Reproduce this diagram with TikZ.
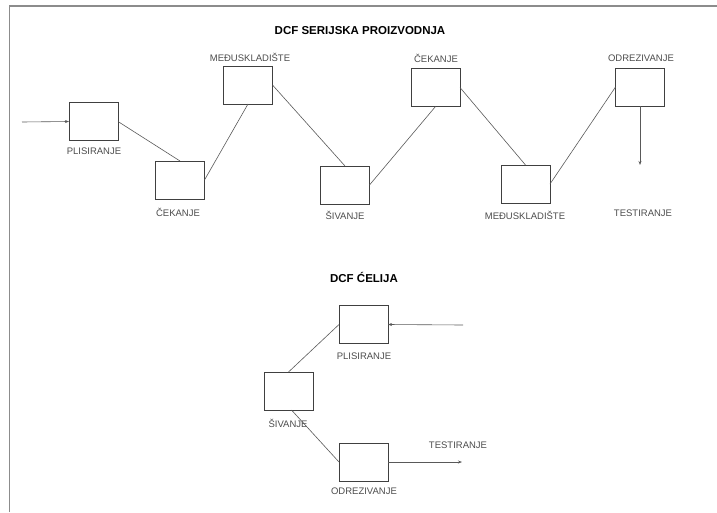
\documentclass[tikz,border=0pt]{standalone}
\usepackage{fontspec}
\setmainfont{Liberation Sans}
\usetikzlibrary{arrows.meta}
\begin{document}
\begin{tikzpicture}[x=1pt,y=-1pt,
  box/.style={draw=black!75,line width=0.7pt,minimum width=49pt,minimum height=38pt,inner sep=0pt,outer sep=0pt},
  lbl/.style={font=\fontsize{9.5}{10}\selectfont,text=black!70,inner sep=0pt},
  ttl/.style={font=\bfseries\fontsize{11.5}{12}\selectfont,inner sep=0pt},
  conn/.style={draw=black!65,line width=0.6pt},
  arr/.style={conn,-{Stealth[length=4pt,width=3pt]}}]
\useasboundingbox (0,0) rectangle (717,512);
\draw[black!45,line width=1.3pt] (9.5,512) -- (9.5,6) -- (717,6);
% top diagram
\node[ttl] (t1) at (360,31) {DCF SERIJSKA PROIZVODNJA};
\node[box] (p1) at (93.5,121.5) {};
\node[box] (c1) at (180,180) {};
\node[box] (m1) at (248,85) {};
\node[box] (s1) at (345,185) {};
\node[box] (c2) at (435.5,87.5) {};
\node[box] (m2) at (525.5,184) {};
\node[box] (o1) at (640,87) {};
\node[lbl] (lp1) at (94,151) {PLISIRANJE};
\node[lbl] (lc1) at (178,212) {ČEKANJE};
\node[lbl] (lm1) at (250,57) {MEĐUSKLADIŠTE};
\node[lbl] (ls1) at (345,215) {ŠIVANJE};
\node[lbl] (lc2) at (436,58) {ČEKANJE};
\node[lbl] (lm2) at (525,215) {MEĐUSKLADIŠTE};
\node[lbl] (lo1) at (641,58) {ODREZIVANJE};
\node[lbl] (lt1) at (643,213) {TESTIRANJE};
\coordinate (in1) at (22,122);
\coordinate (out1) at (640,165);
\draw[arr] (in1) -- (p1.west);
\draw[conn] (p1.east) -- (c1.north);
\draw[conn] (c1.east) -- (m1.south);
\draw[conn] (m1.east) -- (s1.north);
\draw[conn] (s1.east) -- (c2.south);
\draw[conn] (c2.east) -- (m2.north);
\draw[conn] (m2.east) -- (o1.west);
\draw[arr] (o1.south) -- (out1);
% bottom diagram
\node[ttl] (t2) at (364,277) {DCF ĆELIJA};
\node[box] (p2) at (363.5,324.5) {};
\node[box] (s2) at (288.5,391) {};
\node[box] (o2) at (363.5,462) {};
\node[lbl] (lp2) at (364,356) {PLISIRANJE};
\node[lbl] (ls2) at (288,423) {ŠIVANJE};
\node[lbl] (lo2) at (364,491) {ODREZIVANJE};
\node[lbl] (lt2) at (458,445) {TESTIRANJE};
\coordinate (in2) at (463,325);
\coordinate (out2) at (462,462);
\draw[arr] (in2) -- (p2.east);
\draw[conn] (s2.north) -- (p2.west);
\draw[conn] ([xshift=3pt]s2.south) -- (o2.west);
\draw[arr] (o2.east) -- (out2);
\end{tikzpicture}
\end{document}
